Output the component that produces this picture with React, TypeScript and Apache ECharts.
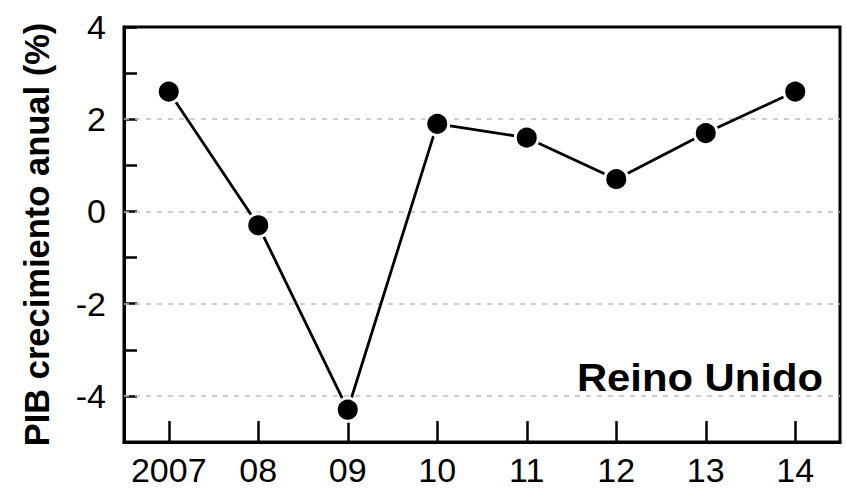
import React, { useEffect, useRef } from "react";
import * as echarts from "echarts";

const categories = ["2007", "08", "09", "10", "11", "12", "13", "14"];
const growth = [2.6, -0.3, -4.3, 1.9, 1.6, 0.7, 1.7, 2.6];
const gridValues = [2, 0, -2, -4];
const yTitle = "PIB crecimiento anual (%)";
const countryLabel = "Reino Unido";

export default function App() {
  const ref = useRef<HTMLDivElement>(null);
  useEffect(() => {
    if (!ref.current) return;
    const chart = echarts.init(ref.current, null, { renderer: "svg" });
    const font = "'Liberation Sans', Arial, sans-serif";
    chart.setOption({
      animation: false,
      backgroundColor: "#ffffff",
      grid: {
        left: 124,
        right: 7,
        top: 27,
        bottom: 53,
        outerBoundsMode: "none",
        containLabel: false,
        show: true,
        borderColor: "#000",
        borderWidth: 3,
        backgroundColor: "transparent",
      },
      xAxis: {
        type: "category",
        data: categories,
        boundaryGap: true,
        axisLine: { show: true, onZero: false, lineStyle: { color: "#000", width: 3 } },
        axisTick: {
          show: true,
          inside: true,
          alignWithLabel: true,
          interval: 0,
          length: 21,
          lineStyle: { color: "#000", width: 2.5 },
        },
        axisLabel: {
          color: "#000",
          fontSize: 34,
          fontFamily: font,
          margin: 11,
          interval: 0,
        },
        splitLine: { show: false },
      },
      yAxis: {
        type: "value",
        min: -5,
        max: 4,
        interval: 1,
        name: yTitle,
        nameLocation: "middle",
        nameGap: 70,
        nameTextStyle: {
          color: "#000",
          fontSize: 34.5,
          fontWeight: "bold",
          fontFamily: font,
        },
        axisLine: { show: true, lineStyle: { color: "#000", width: 3 } },
        axisTick: {
          show: true,
          inside: true,
          length: 13,
          lineStyle: { color: "#000", width: 2.5 },
        },
        axisLabel: {
          color: "#000",
          fontSize: 34,
          fontFamily: font,
          margin: 18,
          formatter: (v: number) => (Math.round(v) % 2 === 0 ? String(v) : ""),
        },
        splitLine: { show: false },
      },
      graphic: [
        {
          type: "text",
          x: 823,
          y: 359,
          scaleX: 1.1,
          style: {
            text: countryLabel,
            fill: "#000",
            fontSize: 38,
            fontWeight: "bold",
            fontFamily: font,
            align: "right",
            verticalAlign: "top",
          },
        },
      ],
      series: [
        {
          type: "line",
          data: growth,
          symbol: "circle",
          symbolSize: 23,
          itemStyle: { color: "#000", borderColor: "#fff", borderWidth: 3 },
          lineStyle: { color: "#000", width: 2.8 },
          z: 5,
          markLine: {
            silent: true,
            symbol: "none",
            label: { show: false },
            lineStyle: { color: "#bdbdbd", width: 1.5, type: [5, 6] },
            data: gridValues.map((v) => ({ yAxis: v })),
            z: 1,
          },
        },
      ],
    });
    return () => chart.dispose();
  }, []);
  return (
    <div
      ref={ref}
      style={{ position: "fixed", left: 0, top: 0, width: 847, height: 495 }}
    />
  );
}
